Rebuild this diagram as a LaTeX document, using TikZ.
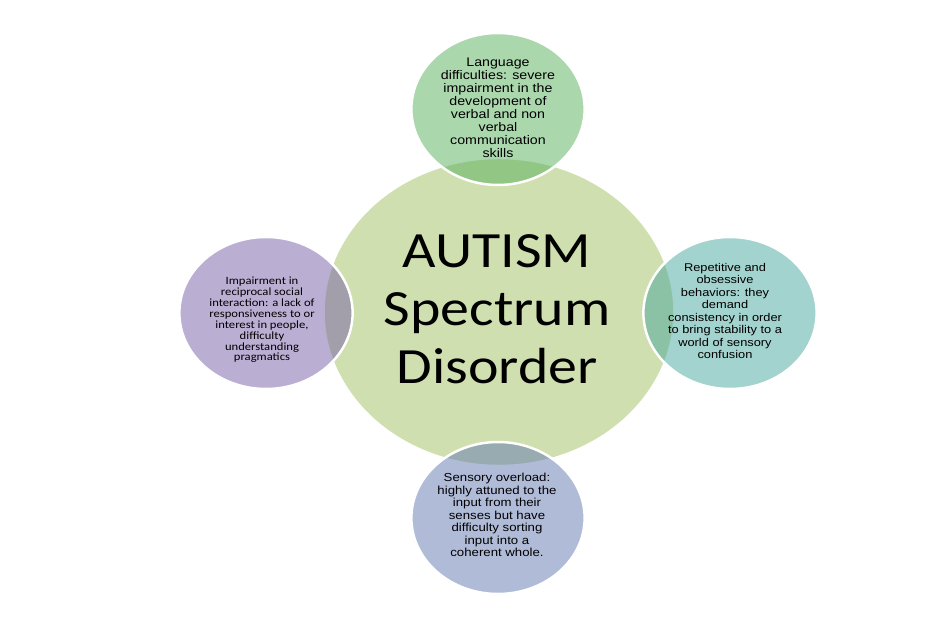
\documentclass[tikz,border=0pt]{standalone}
\usepackage{fontspec}
\setmainfont{Liberation Sans}
\newfontfamily\calibri{Carlito}
\usetikzlibrary{positioning}

\definecolor{hubgreen}{RGB}{208,223,175}
\definecolor{langgreen}{RGB}{85,175,90}
\definecolor{socialpurple}{RGB}{117,95,167}
\definecolor{repeatteal}{RGB}{71,167,157}
\definecolor{sensoryblue}{RGB}{97,120,177}

\tikzset{
	hub/.style={circle, fill=hubgreen, draw=white, line width=0.8pt, minimum size=6.14cm, xscale=1.14},
	sat/.style={circle, fill=#1, fill opacity=0.5, draw=white, draw opacity=1, line width=1.4pt, minimum size=3.04cm, xscale=1.14},
	sattext/.style={align=center, xscale=1.14, inner sep=0pt, font=\fontsize{6.8}{7.4}\selectfont},
}

\begin{document}
\begin{tikzpicture}[x=0.02cm, y=-0.02cm]
	
	\useasboundingbox (0,0) rectangle (949,617);
	
	\node[hub] (hub) at (499,312) {};
	\node[align=center, xscale=1.14, inner sep=0pt, font=\calibri\fontsize{28.9}{33}\selectfont] (hubtext) at (497,309) {AUTISM\\Spectrum\\Disorder};
	
	\node[sat=langgreen] (lang) at (498,109) {};
	\node[sat=socialpurple] (social) at (266,313) {};
	\node[sat=repeatteal] (repeat) at (730,313) {};
	\node[sat=sensoryblue] (sensory) at (498,518) {};
	
	\node[sattext, font=\fontsize{7.1}{7.4}\selectfont] (langtext) at (498,108) {Language\\difficulties: severe\\impairment in the\\development of\\verbal and non\\verbal\\communication\\skills};
	\node[sattext, font=\calibri\fontsize{6.3}{6.2}\selectfont] (socialtext) at (262,320) {Impairment in\\reciprocal social\\interaction: a lack of\\responsiveness to or\\interest in people,\\difficulty\\understanding\\pragmatics};
	\node[sattext, font=\fontsize{6.4}{7.1}\selectfont] (repeattext) at (725,311) {Repetitive and\\obsessive\\behaviors: they\\demand\\consistency in order\\to bring stability to a\\world of sensory\\confusion};
	\node[sattext, font=\fontsize{6.6}{7.1}\selectfont] (sensorytext) at (497,515) {Sensory overload:\\highly attuned to the\\input from their\\senses but have\\difficulty sorting\\input into a\\coherent whole.};
	
\end{tikzpicture}
\end{document}
